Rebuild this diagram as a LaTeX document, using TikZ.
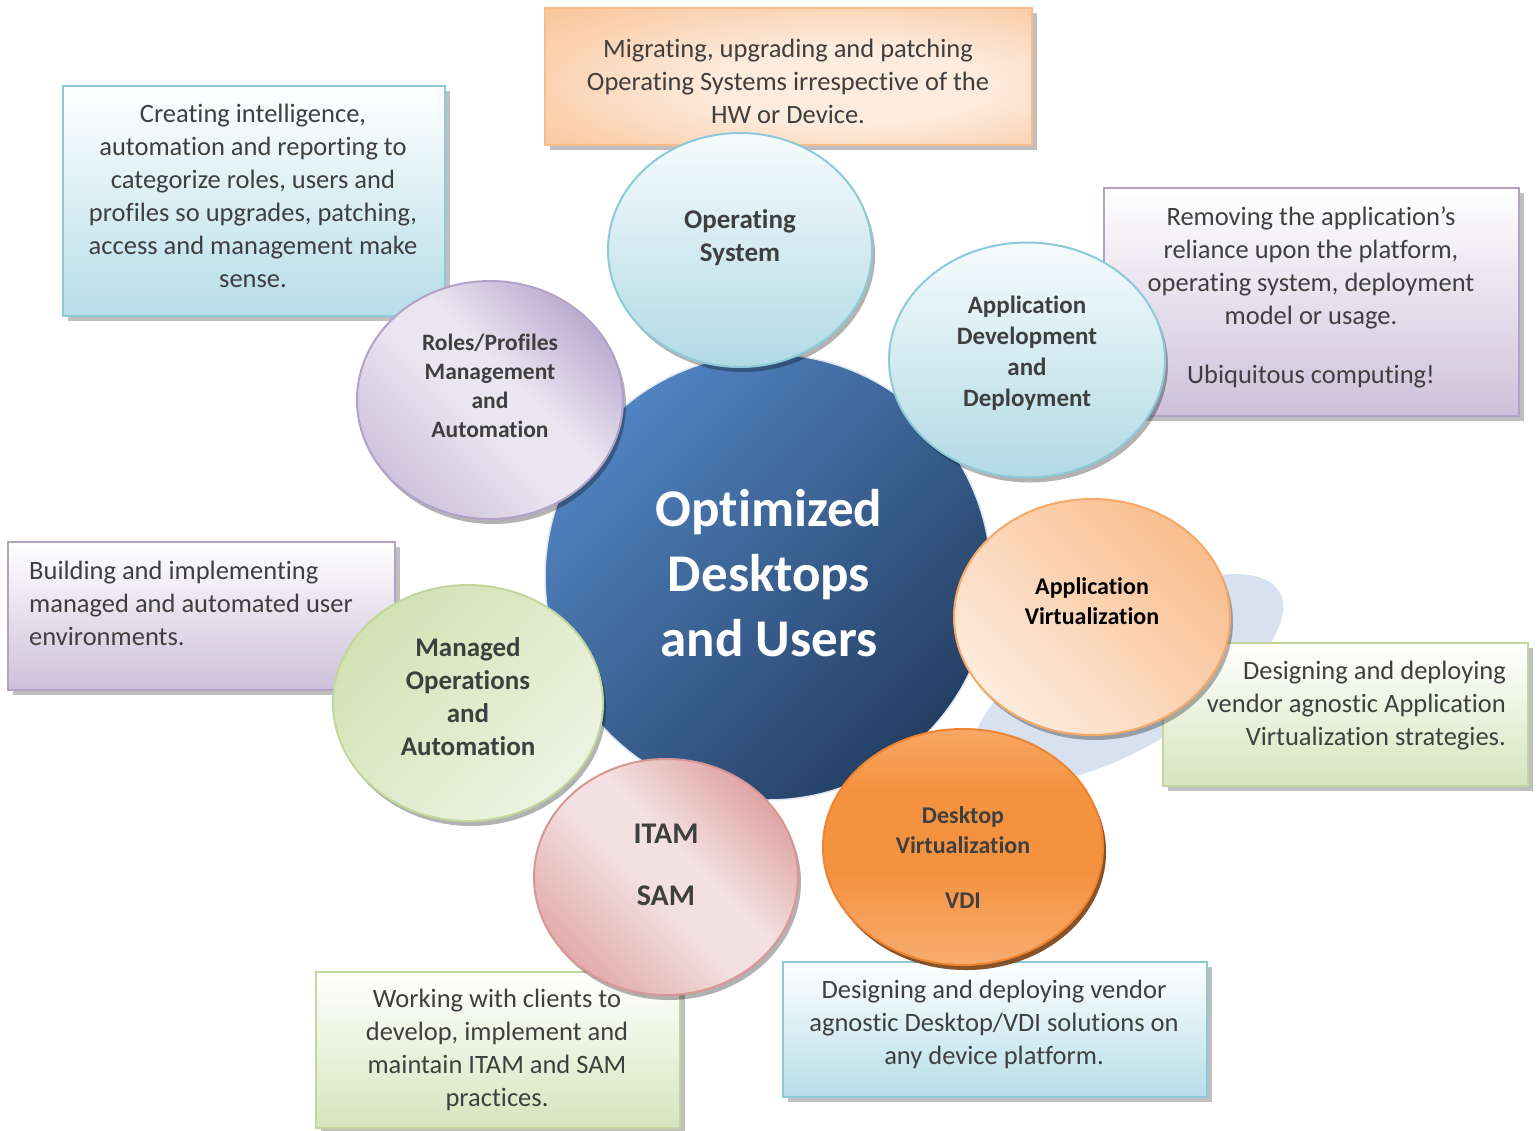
\documentclass[tikz,border=0pt]{standalone}
\usepackage{fontspec}
\setmainfont{Carlito}[Ligatures=CommonOff]
\usetikzlibrary{shapes.geometric,shadows}
\definecolor{inkgray}{HTML}{3F3F3F}
\definecolor{hubA}{HTML}{5183C1}
\definecolor{hubB}{HTML}{243F63}
\definecolor{blobblue}{HTML}{D7E1EF}
\definecolor{blueA}{HTML}{F6FBFC}
\definecolor{blueB}{HTML}{B1DAE5}
\definecolor{blueline}{HTML}{8DCAD9}
\definecolor{peachA}{HTML}{F9BE8E}
\definecolor{peachB}{HTML}{FDEBDD}
\definecolor{peachline}{HTML}{F6A868}
\definecolor{orangeA}{HTML}{F9BC8E}
\definecolor{orangeB}{HTML}{F5923F}
\definecolor{orangeC}{HTML}{F8B37C}
\definecolor{orangeline}{HTML}{EE8430}
\definecolor{pinkA}{HTML}{DC9C9B}
\definecolor{pinkB}{HTML}{F3E0E0}
\definecolor{pinkline}{HTML}{D99694}
\definecolor{greenA}{HTML}{D2E2B4}
\definecolor{greenB}{HTML}{EDF3E2}
\definecolor{greenline}{HTML}{C3D69B}
\definecolor{purpleA}{HTML}{B4A3CB}
\definecolor{purpleB}{HTML}{EAE6F1}
\definecolor{purpleline}{HTML}{B3A2C7}
\definecolor{boxblue}{HTML}{B6DDE8}
\definecolor{boxpurple}{HTML}{CCC1DA}
\definecolor{boxgreen}{HTML}{D7E4BD}
\definecolor{boxorangeA}{HTML}{FDEBDD}
\definecolor{boxorangeB}{HTML}{F9BB88}
\pgfdeclareradialshading{boxglow}{\pgfpoint{8bp}{-4bp}}{color(0bp)=(boxorangeA); color(14bp)=(boxorangeA); color(38bp)=(boxorangeB!75!boxorangeA); color(58bp)=(boxorangeB); color(80bp)=(boxorangeB)}
\pgfdeclareverticalshading{pinkband}{100bp}{color(0bp)=(pinkA!80!pinkB); color(24bp)=(pinkA!80!pinkB); color(46bp)=(pinkB); color(56bp)=(pinkB); color(78bp)=(pinkA); color(100bp)=(pinkA)}
\pgfdeclareverticalshading{purpleband}{100bp}{color(0bp)=(purpleA!55!purpleB); color(24bp)=(purpleA!55!purpleB); color(46bp)=(purpleB); color(56bp)=(purpleB); color(78bp)=(purpleA); color(100bp)=(purpleA)}
\pgfdeclareverticalshading{orangeband}{100bp}{color(0bp)=(orangeC); color(20bp)=(orangeC); color(45bp)=(orangeB); color(62bp)=(orangeB); color(88bp)=(orangeA); color(100bp)=(orangeA)}
\begin{document}
\begin{tikzpicture}[x=1pt,y=-1pt,
  bubble/.style={ellipse,draw=#1,line width=2pt,inner sep=0pt,
    general shadow={shadow xshift=3pt,shadow yshift=-5pt,fill=black,opacity=0.3}},
  bubbletext/.style={align=center,text=inkgray,font=\bfseries\fontsize{25}{31}\selectfont},
  notebox/.style={rectangle,draw=#1,line width=2pt,inner sep=0pt,
    general shadow={shadow xshift=5pt,shadow yshift=-5pt,fill=black,opacity=0.25}},
  notetext/.style={align=center,text=inkgray,inner sep=0pt,font=\fontsize{26.5}{33}\selectfont}]
\useasboundingbox (0,0) rectangle (1539,1130);
% Shadow blob behind application virtualization
\fill[blobblue, rotate around={30:(1127,680)}] (1127,680) ellipse [x radius=176, y radius=68];
% Draw note boxes
\node[notebox=boxorangeB, shading=boxglow, minimum width=487pt, minimum height=137pt] (os-note) at (788.5,76.5) {};
\node[notebox=blueline, top color=white, bottom color=boxblue, minimum width=382pt, minimum height=230pt] (roles-note) at (254,201) {};
\node[notebox=purpleline, top color=white, bottom color=boxpurple, minimum width=415pt, minimum height=228pt] (appdev-note) at (1311.5,302) {};
\node[notebox=purpleline, top color=white, bottom color=boxpurple, minimum width=387pt, minimum height=148pt] (mgdops-note) at (201.5,616) {};
\node[notebox=greenline, top color=white, bottom color=boxgreen, minimum width=365pt, minimum height=143pt] (appvirt-note) at (1345.5,714.5) {};
\node[notebox=greenline, top color=white, bottom color=boxgreen, minimum width=364pt, minimum height=156pt] (itam-note) at (498,1050) {};
\node[notebox=blueline, top color=white, bottom color=boxblue, minimum width=424pt, minimum height=135pt] (vdi-note) at (995,1029.5) {};
% Note texts
\node[notetext] (os-text) at (788,81) {Migrating, upgrading and patching\\Operating Systems irrespective of the\\HW or Device.};
\node[notetext] (roles-note-text) at (253,196) {Creating intelligence,\\automation and reporting to\\categorize roles, users and\\profiles so upgrades, patching,\\access and management make\\sense.};
\node[notetext] (appdev-note-text) at (1311,297) {Removing the application’s\\reliance upon the platform,\\operating system, deployment\\model or usage.\\[26pt]Ubiquitous computing!};
\node[notetext, align=flush left, anchor=west] (mgdops-note-text) at (29,603) {Building and implementing\\managed and automated user\\environments.};
\node[notetext, align=flush right, anchor=east] (appvirt-note-text) at (1506,706) {Designing and deploying\\vendor agnostic Application\\Virtualization strategies.};
\node[notetext] (itam-note-text) at (497,1050) {Working with clients to\\develop, implement and\\maintain ITAM and SAM\\practices.};
\node[notetext] (vdi-note-text) at (994,1024.5) {Designing and deploying vendor\\agnostic Desktop/VDI solutions on\\any device platform.};
% Draw hub circle
\node[circle, draw=white!80!hubA, line width=1.5pt, top color=hubA, bottom color=hubB, shading angle=45,
  minimum size=446pt, inner sep=0pt] (hub) at (768,577) {};
\node[align=center, text=white, font=\bfseries\fontsize{53}{65}\selectfont] (hub-text) at (769,573) {Optimized\\Desktops\\and Users};
% Draw surrounding bubbles
\node[bubble=blueline, top color=blueA, bottom color=blueB,
  minimum width=264pt, minimum height=234pt] (opsys) at (740,250) {};
\node[bubble=blueline, top color=blueA, bottom color=blueB,
  minimum width=276pt, minimum height=235pt] (appdev) at (1027,360) {};
\node[bubble=peachline, top color=peachA, bottom color=peachB, shading angle=-45,
  minimum width=276pt, minimum height=236pt] (appvirt) at (1092,617) {};
\node[bubble=orangeline, shading=orangeband,
  general shadow={shadow xshift=3pt,shadow yshift=-5pt,fill=orangeline!55!black,opacity=0.9},
  minimum width=280pt, minimum height=236pt] (deskvirt) at (963,847) {};
\node[bubble=pinkline, shading=pinkband, shading angle=-45,
  minimum width=264pt, minimum height=236pt] (itam) at (666,877) {};
\node[bubble=greenline, top color=greenA, bottom color=greenB, shading angle=45,
  minimum width=270pt, minimum height=236pt] (mgdops) at (468,703) {};
\node[bubble=purpleline, shading=purpleband, shading angle=-45,
  minimum width=266pt, minimum height=238pt] (roles) at (490,400) {};
% Bubble labels
\node[bubbletext, font=\bfseries\fontsize{27}{33}\selectfont] (opsys-text) at (740,238) {Operating\\System};
\node[bubbletext] (appdev-text) at (1027,353) {Application\\Development\\and\\Deployment};
\node[bubbletext, text=black, font=\bfseries\fontsize{24}{30}\selectfont] (appvirt-text) at (1092,601) {Application\\Virtualization};
\node[bubbletext, font=\bfseries\fontsize{24}{30}\selectfont] (deskvirt-text) at (963,858) {Desktop\\Virtualization\\[25pt]VDI};
\node[bubbletext, font=\bfseries\fontsize{30}{31}\selectfont] (itam-text) at (666,865) {ITAM\\[31pt]SAM};
\node[bubbletext, font=\bfseries\fontsize{27}{33}\selectfont] (mgdops-text) at (468,697) {Managed\\Operations\\and\\Automation};
\node[bubbletext, font=\bfseries\fontsize{23.5}{29}\selectfont] (roles-text) at (490,386) {Roles/Profiles\\Management\\and\\Automation};
\end{tikzpicture}
\end{document}
